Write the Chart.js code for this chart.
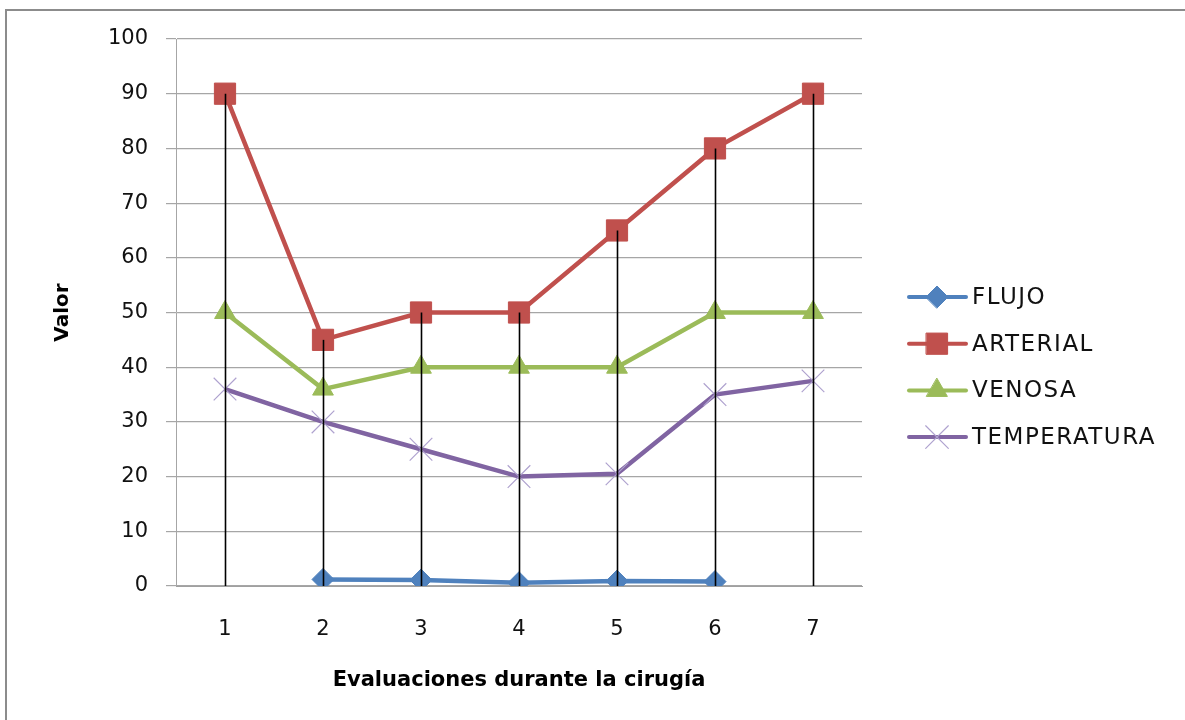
<!DOCTYPE html>
<html>
<head>
<meta charset="utf-8">
<script src="https://cdn.jsdelivr.net/npm/chart.js@4/dist/chart.umd.min.js"></script>
<style>
  body { margin: 0; overflow: hidden; background: #fff; }
  #frame { position: absolute; left: 5px; top: 9px; width: 1300px; height: 800px; border: 2px solid #8c8c8c; }
  #wrap { position: absolute; left: 0; top: 0; width: 1185px; height: 720px; }
</style>
</head>
<body>
<div id="frame"></div>
<div id="wrap"><canvas id="lineChart" width="1185" height="720"></canvas></div>
<script>
var categories = ["1", "2", "3", "4", "5", "6", "7"];
var flujo = [null, 1.2, 1.1, 0.6, 0.9, 0.8, null];
var arterial = [90, 45, 50, 50, 65, 80, 90];
var venosa = [50, 36, 40, 40, 40, 50, 50];
var temperatura = [36, 30, 25, 20, 20.5, 35, 37.5];
var yTicks = [0, 10, 20, 30, 40, 50, 60, 70, 80, 90, 100];

var tickFont = { family: "DejaVu Sans", size: 21 };

// vertical drop lines from the highest point of each category down to the axis
var dropLines = {
  id: 'dropLines',
  afterDatasetsDraw: function(chart) {
    var ctx = chart.ctx, x = chart.scales.x, y = chart.scales.y;
    ctx.save();
    ctx.strokeStyle = '#000';
    ctx.lineWidth = 1.6;
    categories.forEach(function(c, i) {
      var vals = chart.data.datasets.map(function(d) { return d.data[i]; })
        .filter(function(v) { return v !== null; });
      var top = Math.max.apply(null, vals);
      var px = Math.round(x.getPixelForValue(i)) + 0.5;
      ctx.beginPath();
      ctx.moveTo(px, y.getPixelForValue(top));
      ctx.lineTo(px, y.getPixelForValue(0));
      ctx.stroke();
    });
    ctx.restore();
  }
};

// excel style legend: line with marker, then label
var lineLegend = {
  id: 'lineLegend',
  afterDraw: function(chart) {
    var ctx = chart.ctx;
    ctx.save();
    chart.data.datasets.forEach(function(d, i) {
      var cy = 297 + i * 46.7;
      ctx.strokeStyle = d.borderColor;
      ctx.lineWidth = 4;
      ctx.lineCap = 'round';
      ctx.beginPath();
      ctx.moveTo(909, cy);
      ctx.lineTo(966, cy);
      ctx.stroke();
      ctx.fillStyle = d.pointBackgroundColor;
      ctx.strokeStyle = d.pointBorderColor;
      ctx.lineWidth = d.pointBorderWidth;
      Chart.helpers.drawPoint(ctx, {
        pointStyle: d.pointStyle,
        radius: d.pointRadius,
        borderWidth: d.pointBorderWidth,
        rotation: 0
      }, 937, cy);
      ctx.fillStyle = '#111';
      ctx.font = '23px "DejaVu Sans"';
      ctx.letterSpacing = '1.5px';
      ctx.textBaseline = 'middle';
      ctx.textAlign = 'left';
      ctx.fillText(d.label, 972, cy + 1);
    });
    ctx.restore();
  }
};

var ctx = document.getElementById("lineChart").getContext('2d');
var lineChart = new Chart(ctx, {
  type: 'line',
  data: {
    labels: categories,
    datasets: [{
      label: 'FLUJO',
      data: flujo,
      borderColor: "#4F81BD",
      pointBackgroundColor: "#4F81BD",
      pointBorderColor: "#4F81BD",
      pointStyle: 'rectRot',
      pointRadius: 11,
      pointBorderWidth: 1
    }, {
      label: 'ARTERIAL',
      data: arterial,
      borderColor: "#C0504D",
      pointBackgroundColor: "#C0504D",
      pointBorderColor: "#C0504D",
      pointStyle: 'rect',
      pointRadius: 15,
      pointBorderWidth: 1
    }, {
      label: 'VENOSA',
      data: venosa,
      borderColor: "#9BBB59",
      pointBackgroundColor: "#9BBB59",
      pointBorderColor: "#9BBB59",
      pointStyle: 'triangle',
      pointRadius: 12,
      pointBorderWidth: 1
    }, {
      label: 'TEMPERATURA',
      data: temperatura,
      borderColor: "#8064A2",
      pointBackgroundColor: "#8064A2",
      pointBorderColor: "#AFA2CF",
      pointStyle: 'crossRot',
      pointRadius: 16,
      pointBorderWidth: 1.2
    }]
  },
  options: {
    responsive: false,
    animation: false,
    elements: { line: { borderWidth: 4.5, tension: 0 } },
    layout: { padding: { left: 51, right: 323, top: 39, bottom: 27 } },
    plugins: {
      legend: { display: false },
      tooltip: { enabled: false }
    },
    scales: {
      x: {
        offset: true,
        grid: { display: false },
        border: { color: '#a0a0a0' },
        ticks: { font: tickFont, color: '#111', padding: 23 },
        title: {
          display: true,
          text: 'Evaluaciones durante la cirugía',
          font: { family: "DejaVu Sans", size: 21, weight: 'bold' },
          color: '#000',
          padding: 0
        },
        afterFit: function(s) { s.height = 720 - 586 - 27; }
      },
      y: {
        min: 0,
        max: 100,
        afterBuildTicks: function(s) { s.ticks = yTicks.map(function(v) { return { value: v }; }); },
        grid: { color: '#a6a6a6', lineWidth: 1.2, tickLength: 10, tickColor: '#a6a6a6' },
        border: { color: '#a6a6a6' },
        ticks: { font: tickFont, color: '#111', padding: 18 },
        title: {
          display: true,
          text: 'Valor',
          font: { family: "DejaVu Sans", size: 20, weight: 'bold' },
          color: '#000',
          padding: 0
        },
        afterFit: function(s) { s.width = 176 - 51; }
      }
    }
  },
  plugins: [dropLines, lineLegend]
});
</script>
</body>
</html>
